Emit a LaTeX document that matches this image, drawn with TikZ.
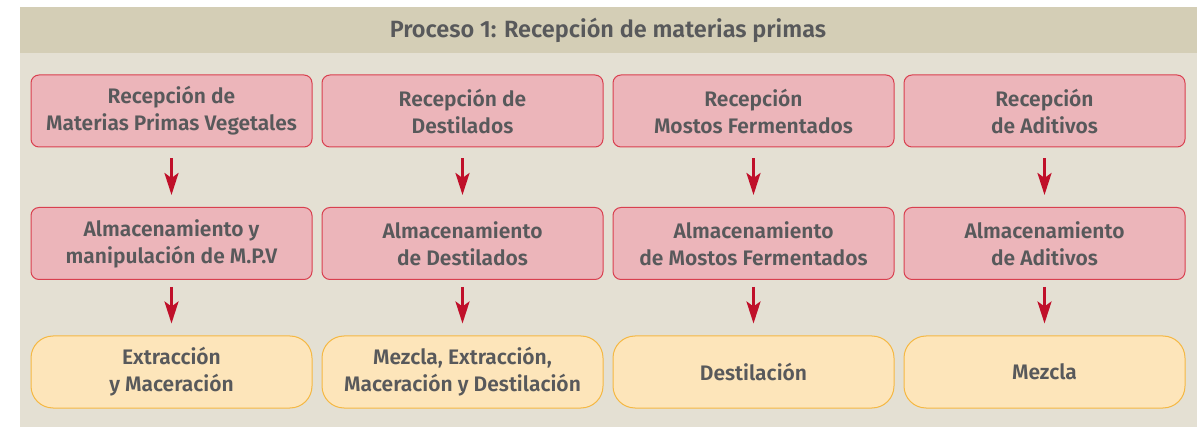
\documentclass[tikz,border=0pt]{standalone}
\usepackage{fontspec}
\setmainfont{Fira Sans}[BoldFont={Fira Sans SemiBold}]
\usepackage{tikz}
\usetikzlibrary{positioning}
\usetikzlibrary{arrows.meta}
\definecolor{panelbg}{HTML}{E4E0D3}
\definecolor{headbg}{HTML}{D4CEB6}
\definecolor{txtgray}{HTML}{58595B}
\definecolor{pinkfill}{HTML}{ECB5BA}
\definecolor{pinkdraw}{HTML}{D9404F}
\definecolor{orfill}{HTML}{FDE5BA}
\definecolor{ordraw}{HTML}{F5B843}
\definecolor{arrred}{HTML}{C0102A}
\tikzset{step node/.style={rectangle,rounded corners=8pt,fill=pinkfill,draw=pinkdraw,line width=1pt,
    minimum width=281pt,minimum height=72pt,inner sep=0pt,align=center,text=txtgray,font=\bfseries\fontsize{21}{27}\selectfont},
  end node/.style={step node,rounded corners=22pt,fill=orfill,draw=ordraw},
  flow/.style={draw=arrred,line width=3pt,-{Stealth[length=22pt,width=14pt,inset=5pt]}},}

\begin{document}
\begin{tikzpicture}[x=1pt,y=-1pt]
	\useasboundingbox[fill=white] (0,0) rectangle (1202,427);
	\fill[panelbg] (20,7) rectangle (1197,427);
	\fill[headbg] (20,7) rectangle (1197,53);
	\node[text=txtgray,font=\bfseries\fontsize{23.5}{27}\selectfont] (title) at (608,30) {Proceso 1: Recepción de materias primas};

	% first row: recepcion
	\node[step node] (r1) at (171.5,111) {Recepción de\\Materias Primas Vegetales};
	\node[step node] (r2) [right = 9pt of r1] {Recepción de\\Destilados};
	\node[step node] (r3) [right = 9pt of r2] {Recepción\\Mostos Fermentados};
	\node[step node] (r4) [right = 9pt of r3] {Recepción\\de Aditivos};

	% second row: almacenamiento
	\node[step node] (a1) [below = 59.5pt of r1] {Almacenamiento y\\manipulación de M.P.V};
	\node[step node] (a2) [below = 59.5pt of r2] {Almacenamiento\\de Destilados};
	\node[step node] (a3) [below = 59.5pt of r3] {Almacenamiento\\de Mostos Fermentados};
	\node[step node] (a4) [below = 59.5pt of r4] {Almacenamiento\\de Aditivos};

	% third row
	\node[end node] (p1) [below = 55.5pt of a1] {Extracción\\y Maceración};
	\node[end node] (p2) [below = 55.5pt of a2] {Mezcla, Extracción,\\Maceración y Destilación};
	\node[end node] (p3) [below = 55.5pt of a3] {Destilación};
	\node[end node] (p4) [below = 55.5pt of a4] {Mezcla};

	\foreach \i in {1,...,4}{
	  \draw[flow,shorten <=11pt,shorten >=12pt] (r\i) -- (a\i);
	  \draw[flow,shorten <=7pt,shorten >=12pt] (a\i) -- (p\i);
	}
\end{tikzpicture}
\end{document}
